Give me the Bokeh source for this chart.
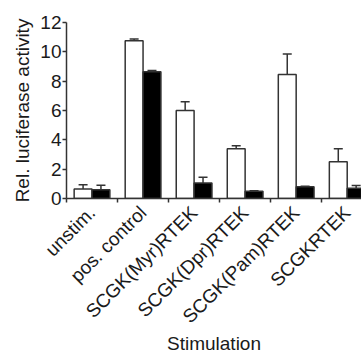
import math
import numpy as np
from bokeh.plotting import figure
from bokeh.models import (ColumnDataSource, Range1d, FixedTicker, Whisker, TeeHead)
from bokeh.embed import file_html
from bokeh.resources import INLINE

categories = ["unstim.", "pos. control", "SCGK(Myr)RTEK", "SCGK(Dpr)RTEK",
              "SCGK(Pam)RTEK", "SCGKRTEK"]
open_values = [0.65, 10.75, 6.0, 3.4, 8.45, 2.5]
open_errors = [0.28, 0.12, 0.6, 0.2, 1.4, 0.9]
filled_values = [0.6, 8.65, 1.05, 0.5, 0.8, 0.7]
filled_errors = [0.3, 0.08, 0.4, 0.03, 0.03, 0.18]
y_ticks = [0, 2, 4, 6, 8, 10, 12]

FONT = "Liberation Sans"
INK = "#1a1a1a"
LINE = "#333333"
FS = "19px"

n = len(categories)
centers = np.arange(n) + 0.5
bounds = list(np.arange(n + 1).astype(float))
bw = 0.35

src_open = ColumnDataSource(dict(
    x=centers - bw / 2, top=open_values,
    upper=np.array(open_values) + np.array(open_errors), lower=open_values))
src_fill = ColumnDataSource(dict(
    x=centers + bw / 2, top=filled_values,
    upper=np.array(filled_values) + np.array(filled_errors), lower=filled_values))

p = figure(width=361, height=356, output_backend="svg", toolbar_location=None,
           x_range=Range1d(0, 5.78), y_range=Range1d(0, 12),
           min_border_left=66, min_border_top=22, min_border_bottom=158,
           min_border_right=0)
p.outline_line_color = None
p.xgrid.grid_line_color = None
p.ygrid.grid_line_color = None
p.background_fill_color = "white"
p.border_fill_color = "white"

for src in (src_open, src_fill):
    p.add_layout(Whisker(base="x", upper="upper", lower="lower", source=src,
                         line_color=LINE, line_width=1.5,
                         lower_head=None,
                         upper_head=TeeHead(size=9, line_color=LINE, line_width=1.5)))

p.vbar(x="x", top="top", bottom=0, width=bw, source=src_open,
       fill_color="white", line_color=LINE, line_width=1.5)
p.vbar(x="x", top="top", bottom=0, width=bw, source=src_fill,
       fill_color="black", line_color=LINE, line_width=1.5)

# x axis
xa = p.xaxis[0]
xa.ticker = FixedTicker(ticks=list(centers), minor_ticks=bounds)
xa.major_label_overrides = {float(c): lab for c, lab in zip(centers, categories)}
xa.major_label_orientation = math.pi / 4
xa.major_tick_out = 0
xa.major_tick_in = 0
xa.minor_tick_out = 4
xa.minor_tick_in = 0
xa.minor_tick_line_color = LINE
xa.minor_tick_line_width = 1.5
xa.axis_line_color = LINE
xa.axis_line_width = 1.5
xa.major_label_text_font = FONT
xa.major_label_text_font_size = FS
xa.major_label_text_color = INK
xa.major_label_standoff = 7
xa.axis_label = "Stimulation"
xa.axis_label_text_font = FONT
xa.axis_label_text_font_size = FS
xa.axis_label_text_font_style = "normal"
xa.axis_label_text_color = INK
xa.axis_label_standoff = -5

# y axis
ya = p.yaxis[0]
ya.ticker = FixedTicker(ticks=y_ticks)
ya.bounds = (0, 12)
ya.major_tick_out = 4
ya.major_tick_in = 0
ya.minor_tick_out = 0
ya.minor_tick_in = 0
ya.major_tick_line_color = LINE
ya.major_tick_line_width = 1.5
ya.axis_line_color = LINE
ya.axis_line_width = 1.5
ya.major_label_text_font = FONT
ya.major_label_text_font_size = FS
ya.major_label_text_color = INK
ya.major_label_standoff = 1
ya.axis_label = "Rel. luciferase activity"
ya.axis_label_text_font = FONT
ya.axis_label_text_font_size = FS
ya.axis_label_text_font_style = "normal"
ya.axis_label_text_color = INK
ya.axis_label_standoff = 4

open("out.html", "w").write(file_html(p, INLINE))
